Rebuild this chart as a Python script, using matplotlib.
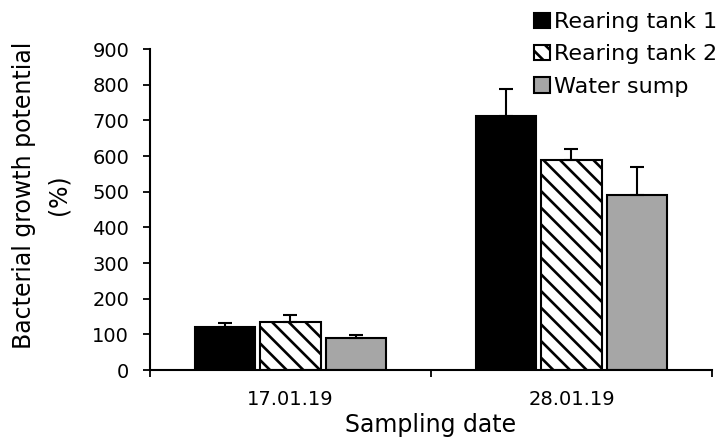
import numpy as np
import matplotlib.pyplot as plt

plt.rcParams['font.family'] = ['DejaVu Sans']
plt.rcParams['hatch.linewidth'] = 1.9

dates = ['17.01.19', '28.01.19']
series = ['Rearing tank 1', 'Rearing tank 2', 'Water sump']
means = [[122, 712], [135, 589], [90, 491]]
errors = [[11, 75], [20, 32], [8, 79]]
colors = ['black', 'white', '#a6a6a6']
hatches = [None, '\\\\', None]

fig = plt.figure(figsize=(7.21, 4.38), dpi=100)
ax = fig.add_axes([0.208, 0.155, 0.7795, 0.733])

x = np.arange(len(dates))
width = 0.214
step = 0.232
for i, name in enumerate(series):
    pos = x + (i - 1) * step
    ax.bar(pos, means[i], width, color=colors[i], edgecolor='black',
           linewidth=1.5, hatch=hatches[i], label=name, zorder=2)
    ax.errorbar(pos, means[i], yerr=[np.zeros(len(dates)), errors[i]],
                fmt='none', ecolor='black', elinewidth=1.5, capsize=5,
                capthick=1.5, zorder=3)

ax.set_xlim(-0.5, 1.5)
ax.set_ylim(0, 900)
ax.set_yticks(np.arange(0, 901, 100))
ax.set_xticks([-0.5, 0.5, 1.5])
ax.set_xticklabels([])
ax.set_xticks(x, minor=True)
ax.set_xticklabels(dates, minor=True)
ax.tick_params(axis='x', which='minor', length=0, pad=14, labelsize=14)
ax.tick_params(axis='x', which='major', length=5, width=1.3)
ax.tick_params(axis='y', length=5, width=1.3, labelsize=14, pad=10)

for side in ['top', 'right']:
    ax.spines[side].set_visible(False)
for side in ['left', 'bottom']:
    ax.spines[side].set_linewidth(1.5)

ax.set_ylabel('Bacterial growth potential\n(%)', fontsize=17, linespacing=1.55)
ax.yaxis.set_label_coords(-0.142, 0.545)
ax.set_xlabel('Sampling date', fontsize=17)
ax.xaxis.set_label_coords(0.5, -0.135)

fig.legend(loc='upper right', bbox_to_anchor=(1.012, 1.0), frameon=False,
           fontsize=16, handlelength=0.7, handleheight=0.7,
           handletextpad=0.2, labelspacing=0.55, borderaxespad=0.0,
           borderpad=0.55)

fig.savefig('out.png', dpi=100)
